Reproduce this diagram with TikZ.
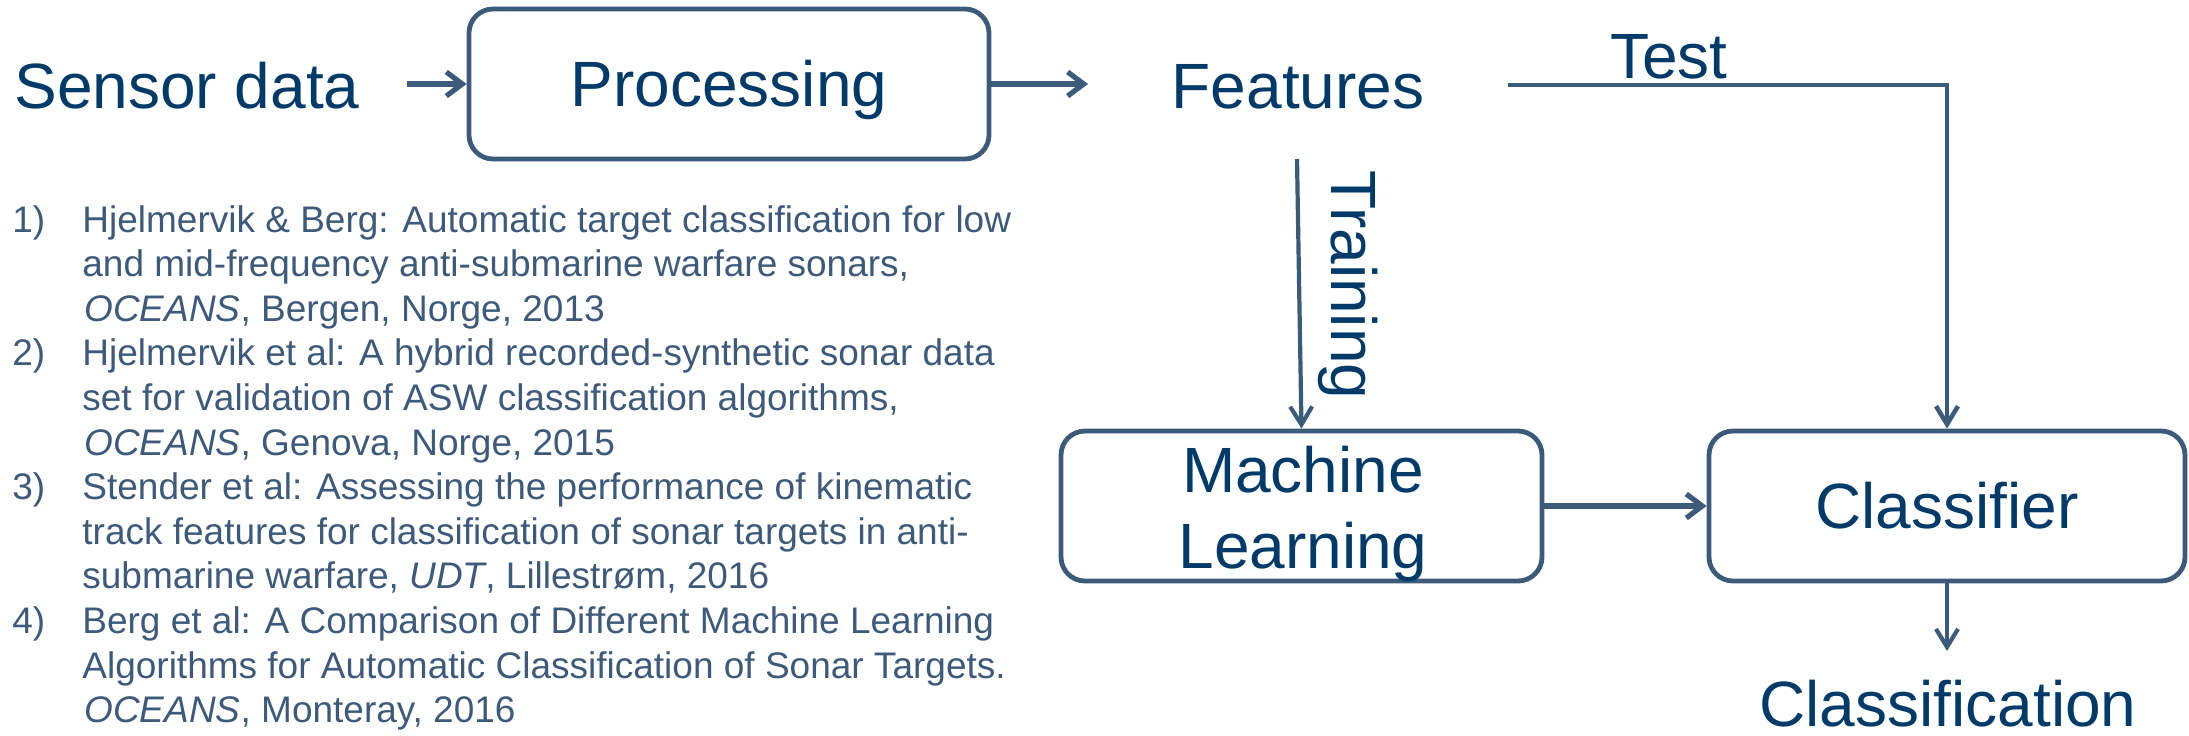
\documentclass[tikz,border=0pt]{standalone}
\usepackage{fontspec}
\setmainfont{Liberation Sans}
\usetikzlibrary{arrows.meta}
\definecolor{headc}{RGB}{0,58,104}
\definecolor{linec}{RGB}{60,90,122}
\definecolor{refc}{RGB}{62,90,122}
\begin{document}
\begin{tikzpicture}[x=0.5pt,y=-0.5pt,
  head/.style={font=\fontsize{32}{38}\selectfont, text=headc, inner sep=0pt},
  reftxt/.style={font=\fontsize{18.5}{22}\selectfont, text=refc, inner sep=0pt, anchor=base west},
  box/.style={draw=linec, line width=2.4pt, rounded corners=12pt, inner sep=0pt,
    minimum height=75pt, text height=22.9pt, text depth=0pt},
  harr/.style={draw=linec, line width=2.6pt, -{Straight Barb[length=8pt,width=12pt]}},
  varr/.style={draw=linec, line width=2.1pt, -{Straight Barb[length=9pt,width=11pt]}},
]
\useasboundingbox (0,0) rectangle (2189,735);

% top row
\node[head, anchor=base west] (sensor) at (14,108) {Sensor data};
\coordinate (sa) at (407,84);
\node[box, head, minimum width=260pt] (proc) at (729,84) {Processing};
\coordinate (pa) at (1088,84);
\node[head, anchor=base] (feat) at (1298,108) {Features};
\draw[harr] (sa) -- (proc.west);
\draw[harr] (proc.east) -- (pa);

% lower boxes
\node[box, minimum width=240.5pt] (ml) at (1301.5,506) {};
\node[head, anchor=base] (mla) at (1303,492) {Machine};
\node[head, anchor=base] (mlb) at (1303,568) {Learning};
\node[box, head, minimum width=238pt] (cl) at (1947,506) {Classifier};
\draw[harr] (ml.east) -- (cl.west);

% training branch
\coordinate (trs) at (1297,159);
\draw[varr] (trs) -- (ml.north);
\node[head, anchor=base west, rotate=-90] (train) at (1331,170) {Training};

% test branch
\coordinate (ts) at (1508,85);
\draw[varr, line width=2.3pt] (ts) -| (cl.north);
\node[head, anchor=base] (test) at (1669,78) {Test};

% output
\coordinate (co) at (1947,651);
\draw[varr] (cl.south) -- (co);
\node[head, anchor=base] (clsf) at (1948,726) {Classification};

% references
\node[reftxt] (n1) at (12,232) {1)};
\node[reftxt] (r1) at (82,232) {Hjelmervik \& Berg: Automatic target classification for low};
\node[reftxt] (r2) at (82,276.6) {and mid-frequency anti-submarine warfare sonars,};
\node[reftxt] (r3) at (84,321.2) {\textit{OCEANS}, Bergen, Norge, 2013};
\node[reftxt] (n2) at (12,365.8) {2)};
\node[reftxt] (r4) at (82,365.8) {Hjelmervik et al: A hybrid recorded-synthetic sonar data};
\node[reftxt] (r5) at (82,410.4) {set for validation of ASW classification algorithms,};
\node[reftxt] (r6) at (84,455) {\textit{OCEANS}, Genova, Norge, 2015};
\node[reftxt] (n3) at (12,499.6) {3)};
\node[reftxt] (r7) at (82,499.6) {Stender et al: Assessing the performance of kinematic};
\node[reftxt] (r8) at (82,544.2) {track features for classification of sonar targets in anti-};
\node[reftxt] (r9) at (82,588.8) {submarine warfare, \textit{UDT}, Lillestrøm, 2016};
\node[reftxt] (n4) at (12,633.4) {4)};
\node[reftxt] (r10) at (82,633.4) {Berg et al: A Comparison of Different Machine Learning};
\node[reftxt] (r11) at (82,678) {Algorithms for Automatic Classification of Sonar Targets.};
\node[reftxt] (r12) at (84,722.6) {\textit{OCEANS}, Monteray, 2016};
\end{tikzpicture}
\end{document}
